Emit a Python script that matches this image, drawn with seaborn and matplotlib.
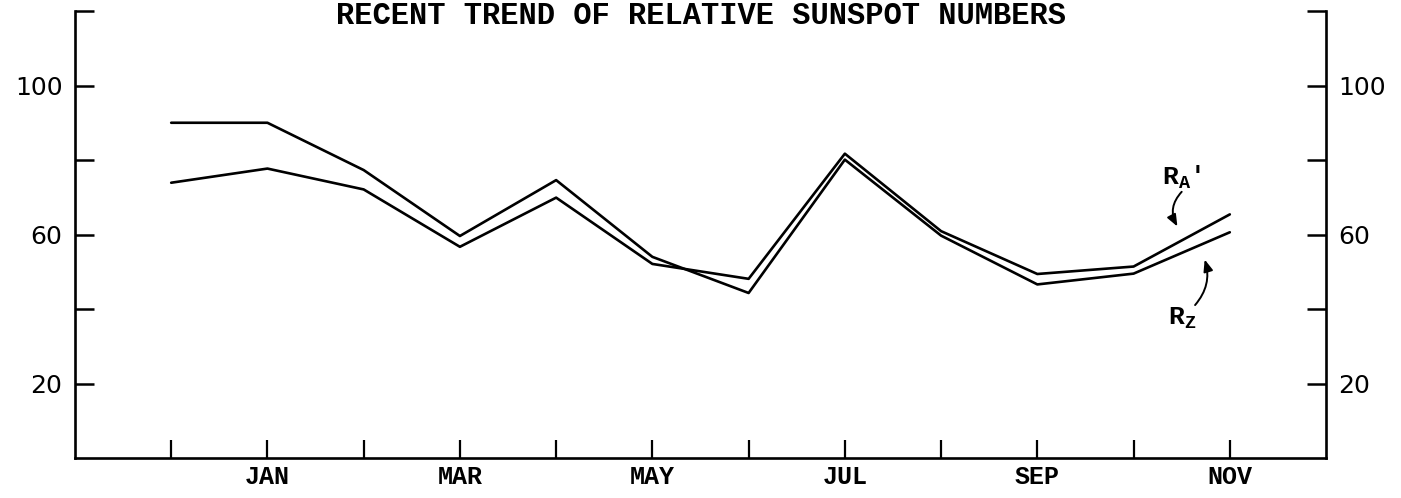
import matplotlib
matplotlib.use("Agg")
import matplotlib.pyplot as plt
import seaborn as sns
import pandas as pd

# monthly relative sunspot numbers, Dec .. Nov
months = ["DEC", "JAN", "FEB", "MAR", "APR", "MAY", "JUN",
          "JUL", "AUG", "SEP", "OCT", "NOV"]
r_a = [73.9, 77.7, 72.1, 56.7, 69.9, 52.1, 48.1, 81.7, 60.9, 49.4, 51.4, 65.4]
r_z = [90.0, 90.0, 77.3, 59.6, 74.6, 54.0, 44.3, 80.1, 59.7, 46.6, 49.5, 60.6]

month_labels = ["", "JAN", "", "MAR", "", "MAY", "", "JUL", "", "SEP", "", "NOV"]
y_ticks = [20, 40, 60, 80, 100, 120]
y_labels = ["20", "", "60", "", "100", ""]

df = pd.DataFrame({
    "pos": list(range(len(months))) * 2,
    "value": r_a + r_z,
    "series": ["R_A'"] * len(months) + ["R_Z"] * len(months),
})

sns.set_style("ticks")
plt.rcParams["font.family"] = ["DejaVu Sans"]
plt.rcParams["text.color"] = "black"
plt.rcParams["mathtext.fontset"] = "custom"
plt.rcParams["mathtext.rm"] = "Liberation Mono:bold"

fig = plt.figure(figsize=(14.01, 4.98), dpi=100)
ax = fig.add_axes([0.0535, 0.0803, 0.893, 0.8976])

sns.lineplot(data=df, x="pos", y="value", hue="series",
             palette={"R_A'": "black", "R_Z": "black"},
             linewidth=1.9, legend=False, ax=ax)

ax.set_xlim(-1, 12)
ax.set_ylim(0, 120)
ax.set_xticks(range(len(months)))
ax.set_xticklabels(month_labels, family="Liberation Mono", weight="bold", fontsize=18)
ax.set_yticks(y_ticks)
ax.set_yticklabels(y_labels, fontsize=18)
ax.set_xlabel("")
ax.set_ylabel("")

ax.tick_params(axis="x", direction="in", length=13, width=1.6, pad=5, colors="black")
ax.tick_params(axis="y", direction="in", length=14, width=1.8, pad=9,
               right=True, labelright=True, colors="black")
for side in ["left", "right", "bottom"]:
    ax.spines[side].set_linewidth(1.9)
    ax.spines[side].set_color("black")
ax.spines["top"].set_visible(False)

# hand-lettered series labels with curved pointers
ax.text(10.5, 75.5, "R$_{\\mathrm{A}}$'", family="Liberation Mono", weight="bold",
        fontsize=19, ha="center", va="center", color="black")
ax.annotate("", xy=(10.47, 61.5), xytext=(10.52, 72.0),
            arrowprops=dict(arrowstyle="-|>,head_length=0.7,head_width=0.28",
                            connectionstyle="arc3,rad=0.4", color="black", lw=1.4))
ax.text(10.5, 37.5, "R$_{\\mathrm{Z}}$", family="Liberation Mono", weight="bold",
        fontsize=19, ha="center", va="center", color="black")
ax.annotate("", xy=(10.73, 54.0), xytext=(10.62, 40.5),
            arrowprops=dict(arrowstyle="-|>,head_length=0.7,head_width=0.28",
                            connectionstyle="arc3,rad=0.3", color="black", lw=1.4))

fig.text(0.5, 0.998, "RECENT TREND OF RELATIVE SUNSPOT NUMBERS",
         family="Liberation Mono", weight="bold", fontsize=22,
         ha="center", va="top", color="black")

fig.savefig("out.png", dpi=100, facecolor="white")
